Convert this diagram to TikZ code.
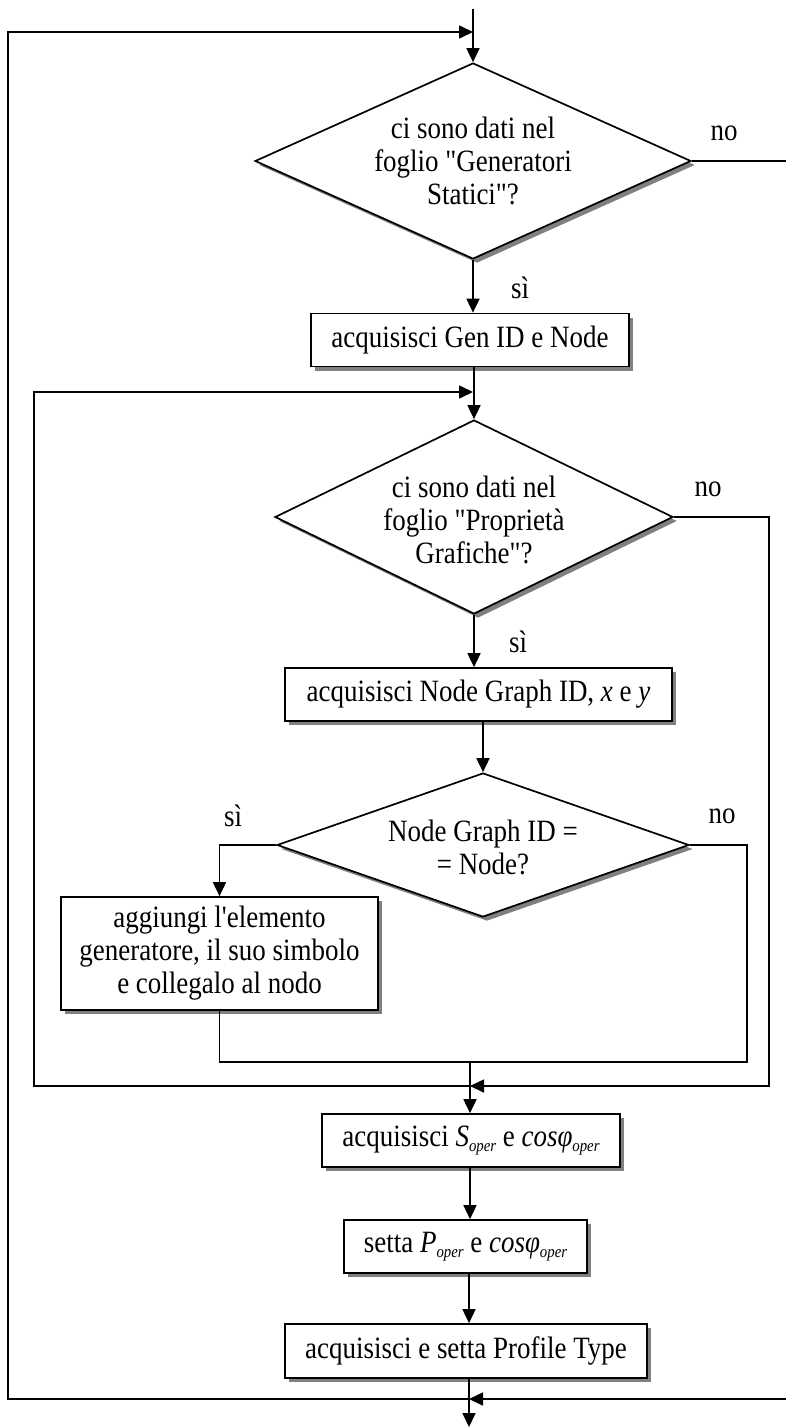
\documentclass[tikz,border=0pt]{standalone}
\usepackage{fontspec}
\setmainfont{Liberation Serif}[FakeStretch=0.87,Ligatures=TeXOff]
\usetikzlibrary{arrows.meta,shapes.geometric,shadows}

% small italic subscript used in the power-factor boxes
\newcommand{\opsub}[1]{\raisebox{-0.35ex}{\fontsize{17}{17}\selectfont\itshape #1}}

\begin{document}
\begin{tikzpicture}[x=1pt,y=-1pt,
  line width=1.7pt,
  flow/.style={-{Triangle[length=14pt,width=13pt]}},
  shade/.style={drop shadow={shadow xshift=4pt,shadow yshift=-4pt,fill=black!50,opacity=1}},
  stepbox/.style={draw,fill=white,rectangle,inner sep=0pt,shade,
    font=\fontsize{31}{33}\selectfont,align=center},
  decision/.style={draw,fill=white,diamond,inner sep=0pt,shade},
  txt/.style={align=center,inner sep=0pt,font=\fontsize{31}{33}\selectfont},
]
\useasboundingbox (0,0) rectangle (786,1427);

% ---- first decision: static generators sheet ----
\node[decision,minimum width=436pt,minimum height=196pt] (d1) at (473,161) {};
\node[txt] (d1t) at (473,161) {ci sono dati nel\\foglio "Generatori\\Statici"?};
\node[txt] (no1) at (724,133) {no};
\node[txt] (si1) at (520,288) {sì};

\node[stepbox,minimum width=318pt,minimum height=53pt] (b1) at (470,340) {acquisisci Gen ID e Node};

% ---- second decision: graphic properties sheet ----
\node[decision,minimum width=398pt,minimum height=194pt] (d2) at (474,517) {};
\node[txt] (d2t) at (474,520) {ci sono dati nel\\foglio "Proprietà\\Grafiche"?};
\node[txt] (no2) at (708,489) {no};
\node[txt] (si2) at (518,642) {sì};

\node[stepbox,minimum width=387pt,minimum height=53pt] (b2) at (478.5,694.5) {acquisisci Node Graph ID, \textit{x} e \textit{y}};

% ---- third decision: node match ----
\node[decision,minimum width=412pt,minimum height=144pt] (d3) at (483,845) {};
\node[txt] (d3t) at (483,847) {Node Graph ID =\\= Node?};
\node[txt] (si3) at (233,816) {sì};
\node[txt] (no3) at (722,816) {no};

\node[stepbox,minimum width=317pt,minimum height=113pt] (b3) at (219.5,953.5) {aggiungi l'elemento\\generatore, il suo simbolo\\e collegalo al nodo};

% ---- final steps ----
\node[stepbox,minimum width=298pt,minimum height=53pt] (b4) at (471,1140.5) {acquisisci \textit{S}\opsub{oper} e \textit{cosφ}\opsub{oper}};
\node[stepbox,minimum width=243pt,minimum height=53pt] (b5) at (465.5,1246.5) {setta \textit{P}\opsub{oper} e \textit{cosφ}\opsub{oper}};
\node[stepbox,minimum width=362pt,minimum height=54pt] (b6) at (466,1351) {acquisisci e setta Profile Type};

% ---- junction points ----
\coordinate (top) at (473,9);
\coordinate (m1) at (473,32);
\coordinate (m2) at (473,392);
\coordinate (m3) at (470,1062);
\coordinate (m4) at (470,1086);
\coordinate (m5) at (469,1399);
\coordinate (e1) at (786,161);
\coordinate (e2) at (786,1399);
\coordinate (bot) at (469,1427);

% ---- connectors ----
\draw[flow] (top) -- (d1.north);
\draw[flow] (d1.south) -- (d1.south |- b1.north);
\draw (d1.east) -- (e1);
\draw[flow] (b1.south -| d2.north) -- (d2.north);
\draw[flow] (d2.south) -- (d2.south |- b2.north);
\draw[flow] (b2.south -| d3.north) -- (d3.north);
\draw[flow] (d3.west) -| (b3.north);
\draw (d3.east) -- (747,845) -- (747,1062) -- (b3.south |- m3) -- (b3.south);
\draw[flow] (d2.east) -- (769,517) -- (769,1086) -- (m4);
\draw[flow] (m4) -- (34,1086) -- (34,392) -- (m2);
\draw[flow] (m3) -- (m3 |- b4.north);
\draw[flow] (b4.south -| m3) -- (b5.north -| m3);
\draw[flow] (b5.south -| m5) -- (b6.north -| m5);
\draw[flow] (b6.south -| m5) -- (bot);
\draw[flow] (e2) -- (m5);
\draw[flow] (m5) -- (8,1399) -- (8,32) -- (m1);
\end{tikzpicture}
\end{document}
